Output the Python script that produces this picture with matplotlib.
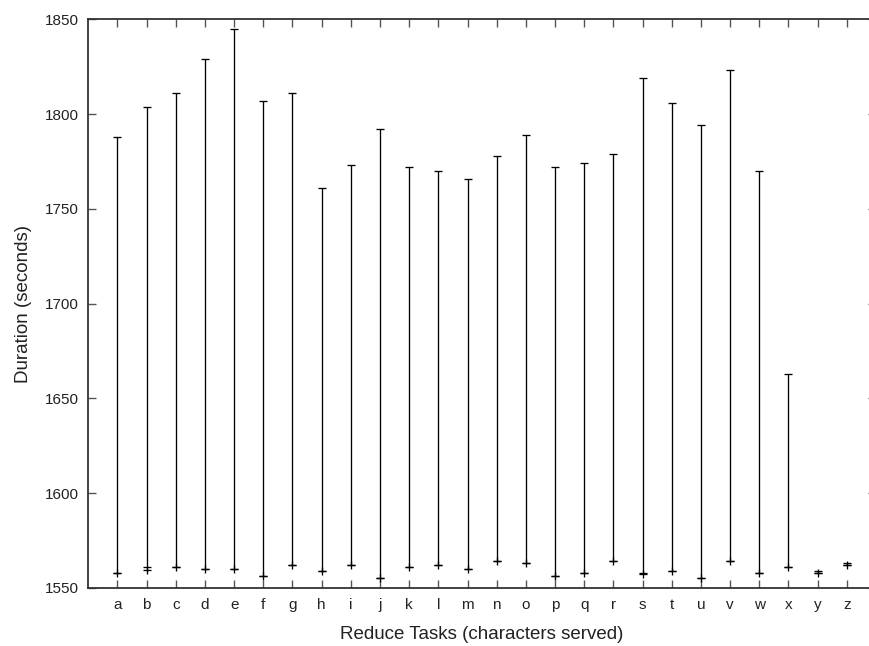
import numpy as np
import matplotlib
matplotlib.use('Agg')
import matplotlib.pyplot as plt

plt.rcParams['font.family'] = ['Liberation Sans', 'DejaVu Sans']

# tarefas reduce (caracteres servidos)
tasks = list('abcdefghijklmnopqrstuvwxyz')

# duração máxima (topo da barra)
dur_max = [1788, 1804, 1811, 1829, 1845, 1807, 1811, 1761, 1773, 1792,
           1772, 1770, 1766, 1778, 1789, 1772, 1774, 1779, 1819, 1806,
           1794, 1823, 1770, 1663, 1559.2, 1563.4]
# duração mínima (traço inferior)
dur_min = [1557.8, 1561.0, 1561.3, 1559.9, 1559.9, 1556.4, 1562.0, 1558.7, 1562.0, 1555.2,
           1561.0, 1562.0, 1559.9, 1564.1, 1563.1, 1556.4, 1557.8, 1564.1, 1557.8, 1559.0,
           1555.2, 1564.1, 1557.8, 1561.0, 1557.8, 1562.0]
# ponto marcado (+)
dur_pt = [1557.8, 1559.6, 1561.3, 1559.9, 1559.9, 1556.4, 1562.0, 1558.7, 1562.0, 1555.2,
          1561.0, 1562.0, 1559.9, 1564.1, 1563.1, 1556.4, 1557.8, 1564.1, 1557.3, 1559.0,
          1555.2, 1564.1, 1557.8, 1561.0, 1557.8, 1562.0]

x = np.arange(1, len(tasks) + 1)
lo = np.minimum(dur_min, dur_pt)

fig = plt.figure(figsize=(8.69, 6.46), dpi=100)
ax = fig.add_axes([0.1016, 0.0898, 0.9064, 0.8803])

ax.vlines(x, lo, dur_max, color='black', lw=0.95)
ax.plot(x, dur_max, ls='none', marker='_', ms=5.6, mew=0.95, color='black')
ax.plot(x, dur_min, ls='none', marker='_', ms=5.6, mew=0.95, color='black')
ax.plot(x, dur_pt, ls='none', marker='+', ms=6.2, mew=0.95, color='black')

ax.set_xlim(0, 27)
ax.set_ylim(1550, 1850)
ax.set_xticks(x)
ax.set_xticklabels(tasks)
ax.set_yticks(np.arange(1550, 1851, 50))

ax.tick_params(direction='in', length=6, width=1.0, color='#555555',
               top=True, right=True, labelsize=11, pad=7, labelcolor='#222222')
for s in ax.spines.values():
    s.set_color('#333333')
    s.set_linewidth(1.3)

ax.set_xlabel('Reduce Tasks (characters served)', fontsize=13.5, labelpad=10, color='#222222')
ax.set_ylabel('Duration (seconds)', fontsize=13.5, labelpad=9, color='#222222')

fig.savefig('out.png', dpi=100)
